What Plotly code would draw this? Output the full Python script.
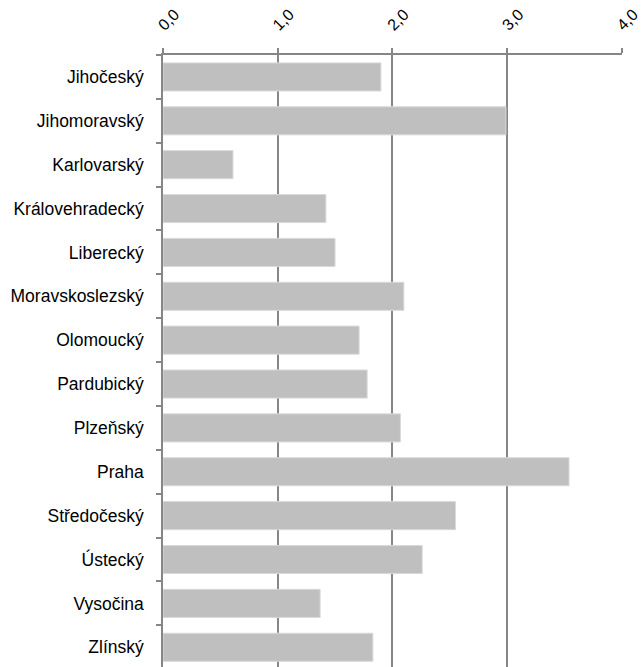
import plotly.graph_objects as go

regions = ["Jihočeský", "Jihomoravský", "Karlovarský", "Královehradecký", "Liberecký",
           "Moravskoslezský", "Olomoucký", "Pardubický", "Plzeňský", "Praha",
           "Středočeský", "Ústecký", "Vysočina", "Zlínský"]
values = [1.90, 2.99, 0.61, 1.42, 1.50, 2.10, 1.71, 1.78, 2.07, 3.54, 2.55, 2.26, 1.37, 1.83]
x_ticks = [0, 1, 2, 3, 4]
x_tick_labels = ["0,0", "1,0", "2,0", "3,0", "4,0"]

grid = "#868686"
fig = go.Figure(go.Bar(
    x=values, y=regions, orientation="h",
    marker=dict(color="#bfbfbf", line=dict(color="#d9d9d9", width=1)),
    hoverinfo="x+y",
))
fig.update_layout(
    width=643, height=667,
    margin=dict(l=163, r=21, t=55, b=0),
    paper_bgcolor="white", plot_bgcolor="white",
    bargap=0.36, showlegend=False,
    font=dict(family="Liberation Sans", size=17.5, color="#000000"),
)
fig.update_xaxes(
    side="top", range=[0, 4.002], tickvals=x_ticks, ticktext=x_tick_labels,
    tickangle=-45, tickfont=dict(size=16),
    showgrid=True, gridcolor=grid, gridwidth=1.5,
    showline=True, linecolor=grid, linewidth=1.5,
    ticks="outside", ticklen=5, tickcolor=grid, tickwidth=1.5,
    zeroline=False, fixedrange=True, automargin=False,
    ticklabelstandoff=8, ticklabelshift=-4, ticklabeloverflow="allow",
)
fig.update_yaxes(
    type="category", categoryorder="array", categoryarray=regions,
    range=[13.45, -0.5], showline=True, linecolor=grid, linewidth=1.5,
    ticks="outside", ticklen=5, tickcolor=grid, tickwidth=1.5,
    tickson="boundaries", showgrid=False, ticklabelstandoff=14, fixedrange=True,
    automargin=False,
)
fig.write_html(
    "out.html",
    config={"displayModeBar": False},
    post_script="document.body.style.margin='0';document.body.style.overflow='hidden';",
)
